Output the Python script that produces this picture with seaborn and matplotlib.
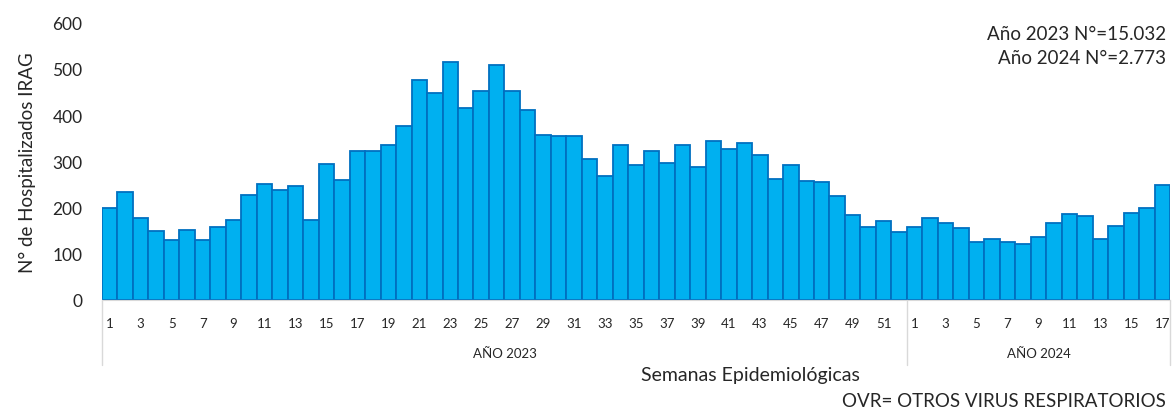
import seaborn as sns
import matplotlib.pyplot as plt
import pandas as pd

weeks_2023 = list(range(1, 53))
values_2023 = [200, 233, 177, 150, 129, 151, 130, 157, 173, 227,
               252, 237, 247, 174, 294, 260, 323, 323, 336, 376,
               477, 447, 516, 415, 452, 509, 452, 412, 356, 355,
               355, 306, 269, 336, 293, 323, 297, 336, 287, 345,
               326, 340, 313, 262, 293, 257, 255, 225, 183, 157,
               170, 146]
weeks_2024 = list(range(1, 18))
values_2024 = [157, 178, 167, 155, 126, 131, 126, 122, 137, 166,
               185, 181, 133, 161, 188, 199, 249]
year_labels = ["AÑO 2023", "AÑO 2024"]
notes = ["Año 2023 N°=15.032", "Año 2024 N°=2.773"]

df = pd.DataFrame({
    "pos": range(len(values_2023) + len(values_2024)),
    "week": weeks_2023 + weeks_2024,
    "value": values_2023 + values_2024,
})

sns.set_style("white")
plt.rcParams["font.family"] = ["Lato", "DejaVu Sans"]

fig = plt.figure(figsize=(11.74, 4.10), dpi=100)
ax = fig.add_axes([0.0869, 0.266, 0.9097, 0.676])

sns.barplot(data=df, x="pos", y="value", width=1, color="#00B0F0",
            edgecolor="#0070C0", linewidth=1.3, saturation=1, ax=ax)

ax.set_xlim(-0.5, len(df) - 0.5)
ax.set_ylim(0, 600)
ax.set_yticks(range(0, 601, 100))
ax.tick_params(axis="y", labelsize=12.5, length=0, pad=14)

odd = df[df["week"] % 2 == 1]
ax.set_xticks(odd["pos"])
ax.set_xticklabels(odd["week"], fontsize=9.5)
ax.tick_params(axis="x", length=0, pad=12)

for s in ["top", "right", "left"]:
    ax.spines[s].set_visible(False)
ax.spines["bottom"].set_color("#D9D9D9")

ax.set_xlabel("")
ax.set_ylabel("N° de Hospitalizados IRAG", fontsize=13.5, labelpad=12)

# year group separators and labels
n23 = len(values_2023)
trans = ax.get_xaxis_transform()
for xs in [-0.5, n23 - 0.5, len(df) - 0.5]:
    ax.plot([xs, xs], [0, -0.235], transform=trans, color="#D9D9D9",
            lw=1, clip_on=False)
ax.text((n23 - 1) / 2, -0.19, year_labels[0], transform=trans,
        ha="center", va="center", fontsize=9.5)
ax.text((n23 + len(df) - 1) / 2, -0.19, year_labels[1], transform=trans,
        ha="center", va="center", fontsize=9.5)

fig.text(0.639, 0.085, "Semanas Epidemiológicas", ha="center", va="center", fontsize=14)
fig.text(0.993, 0.02, "OVR= OTROS VIRUS RESPIRATORIOS", ha="right", va="center", fontsize=13.5)
fig.text(0.993, 0.915, notes[0], ha="right", va="center", fontsize=13.5)
fig.text(0.993, 0.857, notes[1], ha="right", va="center", fontsize=13.5)

fig.savefig("out.png", dpi=100)
